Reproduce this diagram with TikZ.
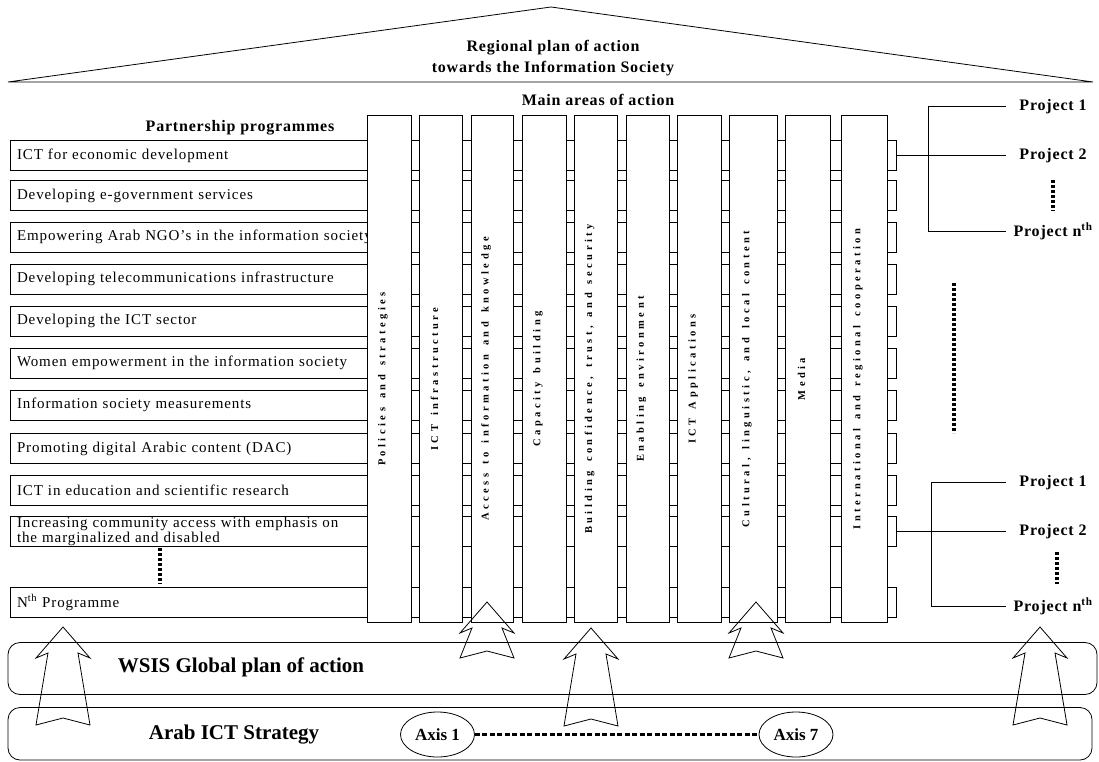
\documentclass[tikz,border=0pt]{standalone}
\usepackage{fontspec}
\setmainfont{Liberation Serif}
\newfontfamily\progfont[LetterSpace=6]{Liberation Serif}
\newfontfamily\headfont[LetterSpace=5]{Liberation Serif}
\newfontfamily\areafont[LetterSpace=33, WordSpace=1.5]{Liberation Serif}
\usetikzlibrary{shapes.geometric, calc}

% hollow up arrow: x, tip y, length
\newcommand{\liftarrow}[3]{%
  \draw[arrowline] (#1,#2) -- ++(27,31) -- ++(-12,-5) -- ++(12,#3-26)
    -- ++(-27,-7) -- ++(-27,7) -- ++(12,26-#3) -- ++(-12,5) -- cycle;}

\begin{document}
\begin{tikzpicture}[x=1pt, y=-1pt, line width=0.8pt,
    progbox/.style={draw, minimum width=886pt, minimum height=30pt, text width=872pt,
      inner xsep=7pt, inner ysep=0pt, align=left, font={\progfont\fontsize{15}{15}\selectfont}},
    colbox/.style={draw, fill=white},
    arealabel/.style={rotate=90, inner sep=0pt, font={\areafont\bfseries\fontsize{10.5}{12}\selectfont}},
    headtext/.style={align=center, inner sep=0pt, font={\headfont\bfseries\fontsize{16}{21}\selectfont}},
    projtext/.style={minimum width=94pt, inner sep=0pt, font={\headfont\bfseries\fontsize{16}{18}\selectfont}},
    bartext/.style={inner sep=0pt, font={\bfseries\fontsize{21}{24}\selectfont}},
    axisnode/.style={ellipse, draw, minimum width=74pt, minimum height=45pt, inner sep=0pt,
      font={\bfseries\fontsize{17}{18}\selectfont}},
    dotline/.style={line width=3.5pt, dash pattern=on 3pt off 2pt},
    arrowline/.style={line join=miter}]
    \useasboundingbox (0,0) rectangle (1099,762);

    % Roof
    \draw (8,82) -- (551,7) -- (1093,82) -- cycle;
    \node[headtext] (title) at (553,58) {Regional plan of action\\towards the Information Society};
    \node[headtext] (areas) at (598,100) {Main areas of action};
    \node[headtext] (partners) at (240,128) {Partnership programmes};

    % Partnership programmes
    \foreach \yc/\n/\txt in {155.5/1/{ICT for economic development},
        195.5/2/{Developing e-government services},
        237/3/{Empowering Arab NGO’s in the information society},
        279/4/{Developing telecommunications infrastructure},
        321/5/{Developing the ICT sector},
        363/6/{Women empowerment in the information society},
        405/7/{Information society measurements},
        448.5/8/{Promoting digital Arabic content (DAC)},
        490.5/9/{ICT in education and scientific research},
        531.5/10/{Increasing community access with emphasis on\\the marginalized and disabled},
        602.5/N/{N\textsuperscript{th} Programme}}
        \node[progbox] (prog\n) at (453,\yc) {\txt};
    \draw[dotline] (160,548) -- (160,584);

    % Main areas of action
    \foreach \xa/\xb/\n/\txt in {367/411/1/{Policies and strategies},
        419/462/2/{ICT infrastructure},
        471/513/3/{Access to information and knowledge},
        522/566/4/{Capacity building},
        574/617/5/{Building confidence, trust, and security},
        626/669/6/{Enabling environment},
        677/721/7/{ICT Applications},
        729/777/8/{Cultural, linguistic, and local content},
        785/830/9/{Media},
        841/887/10/{International and regional cooperation}}
    {
        \draw[colbox] (\xa,115) rectangle (\xb,622);
        \node[arealabel] (area\n) at ({(\xa+\xb)/2-6},379) {\txt};
    }

    % Projects of programme 1
    \coordinate (brA) at (928,0);
    \node[projtext] (pj1a) at (1053,106.5) {Project 1};
    \node[projtext] (pj2a) at (1053,155.5) {Project 2};
    \node[projtext] (pjna) at (1053,231.5) {Project n\textsuperscript{th}};
    \draw (pj1a.west) -- (pj1a.west -| brA) -- (pjna.west -| brA) -- (pjna.west);
    \draw[line width=1.5pt] (prog1.east) -- (prog1.east -| brA);
    \draw (prog1.east -| brA) -- (pj2a.west);
    \draw[dotline] (1053,180) -- (1053,211);

    \draw[dotline] (954,283) -- (954,433);

    % Projects of programme 10
    \coordinate (brB) at (931,0);
    \node[projtext] (pj1b) at (1053,482.5) {Project 1};
    \node[projtext] (pj2b) at (1053,531.5) {Project 2};
    \node[projtext] (pjnb) at (1053,606.5) {Project n\textsuperscript{th}};
    \draw (pj1b.west) -- (pj1b.west -| brB) -- (pjnb.west -| brB) -- (pjnb.west);
    \draw[line width=1.5pt] (prog10.east) -- (prog10.east -| brB);
    \draw (prog10.east -| brB) -- (pj2b.west);
    \draw[dotline] (1057,552) -- (1057,584);

    % WSIS and Arab strategy
    \draw[rounded corners=12pt] (8,642.5) rectangle (1097,694.5);
    \node[bartext] (wsis) at (241,667) {WSIS Global plan of action};
    \draw[rounded corners=12pt] (8,707.5) rectangle (1092,760);
    \node[bartext] (arab) at (234,735) {Arab ICT Strategy};
    \node[axisnode] (axis1) at (437.5,734.5) {Axis 1};
    \node[axisnode] (axis7) at (796,734.5) {Axis 7};
    \draw[line width=2.5pt, dash pattern=on 5pt off 2.5pt] (axis1) -- (axis7);

    % Arrows
    \liftarrow{63}{627}{98}
    \liftarrow{487}{602}{56}
    \liftarrow{591}{628}{98}
    \liftarrow{756}{602}{56}
    \liftarrow{1040}{627}{98}
\end{tikzpicture}
\end{document}
